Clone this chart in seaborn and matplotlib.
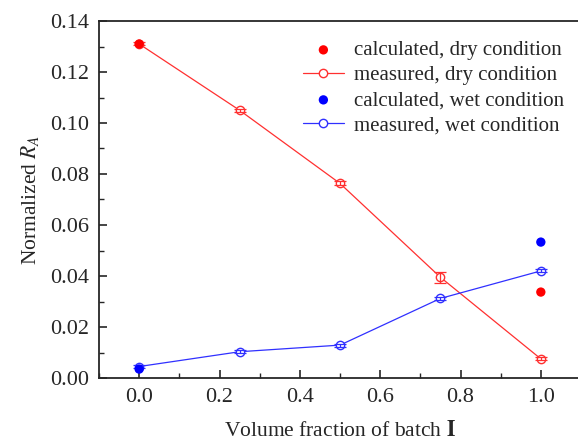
import matplotlib
matplotlib.use("Agg")
import matplotlib.pyplot as plt
import seaborn as sns
import numpy as np
import pandas as pd
from matplotlib.ticker import MultipleLocator

x_meas = [0.0, 0.25, 0.5, 0.75, 1.0]
dry_meas = [0.1310, 0.1050, 0.0763, 0.0395, 0.0075]
dry_err = [0.0006, 0.0006, 0.0008, 0.0022, 0.0006]
wet_meas = [0.0045, 0.0103, 0.0129, 0.0312, 0.0420]
wet_err = [0.0006, 0.0006, 0.0006, 0.0006, 0.0006]
x_calc = [0.0, 1.0]
dry_calc = [0.1310, 0.0337]
wet_calc = [0.0035, 0.0533]

sns.set_style("ticks")
plt.rcParams['font.family'] = ['Liberation Serif', 'DejaVu Serif']
plt.rcParams['mathtext.fontset'] = 'stix'

fig = plt.figure(figsize=(5.78, 4.43), dpi=100)
ax = fig.add_axes([99/578, 1-378/443, (581-99)/578, (378-21)/443])

red = '#ff3030'
blue = '#3030ff'

df_dry = pd.DataFrame({'x': x_meas, 'y': dry_meas})
df_wet = pd.DataFrame({'x': x_meas, 'y': wet_meas})
sns.lineplot(data=df_dry, x='x', y='y', ax=ax, color=red, lw=0.9, marker='o',
             markersize=6, markerfacecolor='white', markeredgecolor=red,
             markeredgewidth=1.0, label='measured, dry condition', zorder=3)
sns.lineplot(data=df_wet, x='x', y='y', ax=ax, color=blue, lw=0.9, marker='o',
             markersize=6, markerfacecolor='white', markeredgecolor=blue,
             markeredgewidth=1.0, label='measured, wet condition', zorder=3)
ax.errorbar(x_meas, dry_meas, yerr=dry_err, fmt='none', ecolor=red, elinewidth=0.9, capsize=4, capthick=0.9, zorder=4)
ax.errorbar(x_meas, wet_meas, yerr=wet_err, fmt='none', ecolor=blue, elinewidth=0.9, capsize=4, capthick=0.9, zorder=4)

sns.scatterplot(x=x_calc, y=dry_calc, ax=ax, color='#ff0000', s=45, edgecolor='none',
                label='calculated, dry condition', zorder=5)
sns.scatterplot(x=x_calc, y=wet_calc, ax=ax, color='#0000ff', s=45, edgecolor='none',
                label='calculated, wet condition', zorder=5)

ax.set_xlim(-0.1, 1.1)
ax.set_ylim(0, 0.14)
ax.xaxis.set_minor_locator(MultipleLocator(0.1))
ax.yaxis.set_major_locator(MultipleLocator(0.02))
ax.yaxis.set_minor_locator(MultipleLocator(0.01))
ax.set_xticks([0.0, 0.2, 0.4, 0.6, 0.8, 1.0])
ax.set_xticklabels(['0.0', '0.2', '0.4', '0.6', '0.8', '1.0'])
ax.yaxis.set_major_formatter(matplotlib.ticker.FormatStrFormatter('%.2f'))
ax.tick_params(which='major', direction='in', length=6, width=1.2, labelsize=16, pad=7)
ax.tick_params(which='minor', direction='in', length=3.5, width=1.0)
for s in ax.spines.values():
    s.set_linewidth(1.3)
    s.set_visible(True)

ax.set_xlabel(r'Volume fraction of batch $\mathbf{I}$', fontsize=15.5, labelpad=10)
ax.set_ylabel(r'Normalized $R_A$', fontsize=15.5, labelpad=7)

h, l = ax.get_legend_handles_labels()
order = ['calculated, dry condition', 'measured, dry condition',
         'calculated, wet condition', 'measured, wet condition']
hd = dict(zip(l, h))
ax.legend([hd[k] for k in order], order, loc='upper left', bbox_to_anchor=(0.405, 0.968),
          frameon=False, fontsize=15, handlelength=2.0, handletextpad=0.45,
          labelspacing=0.26, borderaxespad=0)

fig.savefig('out.png', dpi=100)
